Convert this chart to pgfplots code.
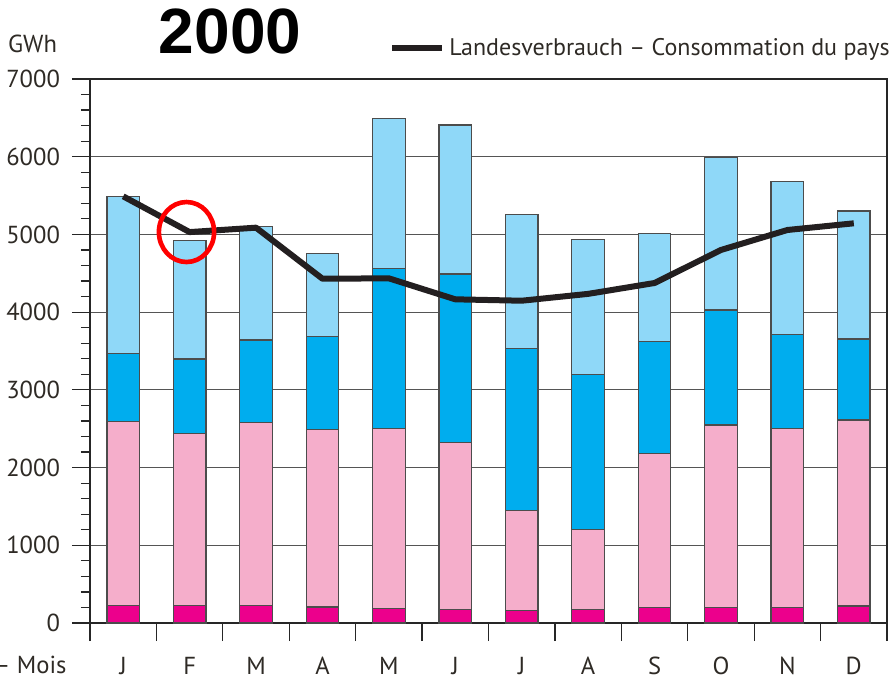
\documentclass[border=0pt]{standalone}
\usepackage{pgfplots}
\pgfplotsset{compat=1.18}
\usepackage{fontspec}
\setmainfont{PT Sans}
\newfontfamily\titlefont{Liberation Sans}
\definecolor{cmag}{HTML}{EC008C}
\definecolor{cpink}{HTML}{F5AECB}
\definecolor{cblue}{HTML}{00ADEE}
\definecolor{clight}{HTML}{8FD8F8}
\definecolor{cline}{HTML}{231F20}
\definecolor{ctext}{HTML}{2E2A25}
\definecolor{cgrid}{HTML}{555555}
\begin{document}
\begin{tikzpicture}
\useasboundingbox (-45pt,-29pt) rectangle (399.5pt,311.5pt);
\pgfplotsset{
  common/.style={
    at={(0,0)}, anchor=south west, scale only axis,
    width=398.5pt, height=272pt,
    xmin=-0.5, xmax=11.5, ymin=0, ymax=7000,
    clip=false,
  }
}
\begin{axis}[
  common,
  ybar stacked, bar width=16.3pt,
  xtick={-0.5,0.5,...,11.5},
  xticklabels={J,F,M,A,M,J,J,A,S,O,N,D,},
  x tick label style={xshift=16.6pt, yshift=-4.5pt},
  ytick={0,1000,...,7000}, minor y tick num=4,
  xtick pos=lower, ytick pos=left,
  tick align=outside, major tick length=9pt, minor tick length=4.5pt,
  ymajorgrids, grid style={cgrid, line width=0.6pt},
  axis line style={line width=0.6pt, black!85},
  tick style={line width=0.6pt, black!85},
  font=\fontsize{12.3pt}{14pt}\selectfont\color{ctext},
  /pgf/number format/assume math mode=true,
  scaled y ticks=false,
  y tick label style={/pgf/number format/1000 sep={}, xshift=-2.5pt},
  every axis plot/.append style={line width=0.6pt},
]
\addplot[fill=cmag, draw=black!70] coordinates {(0,223) (1,223) (2,223) (3,206) (4,189) (5,176) (6,158) (7,176) (8,202) (9,202) (10,202) (11,219)};
\addplot[fill=cpink, draw=black!70] coordinates {(0,2367) (1,2218) (2,2354) (3,2281) (4,2316) (5,2144) (6,1287) (7,1025) (8,1982) (9,2346) (10,2303) (11,2393)};
\addplot[fill=cblue, draw=black!70] coordinates {(0,880) (1,956) (2,1065) (3,1197) (4,2054) (5,2171) (6,2090) (7,1999) (8,1436) (9,1480) (10,1210) (11,1042)};
\addplot[fill=clight, draw=black!70] coordinates {(0,2016) (1,1523) (2,1458) (3,1073) (4,1932) (5,1917) (6,1719) (7,1737) (8,1395) (9,1960) (10,1964) (11,1648)};
\node[anchor=east, inner sep=0pt, font=\fontsize{12.3pt}{14pt}\selectfont\color{ctext}] at (rel axis cs:-0.0289,-0.0772) {– Mois};
\node[font=\fontsize{12.3pt}{14pt}\selectfont\color{ctext}] at (rel axis cs:-0.0721,1.064) {GWh};
\node[font=\titlefont\bfseries\fontsize{32pt}{36pt}\selectfont] at (rel axis cs:0.1757,1.088) {2000};
\end{axis}
\begin{axis}[
  common,
  hide axis,
  legend style={at={(rel axis cs:0.375,1.057)}, anchor=west, draw=none, fill=none,
    inner sep=0pt, font=\fontsize{12pt}{14pt}\selectfont\color{ctext}},
  legend image code/.code={\draw[#1] (0pt,0pt) -- (25pt,0pt);},
]
\addplot[cline, line width=3pt, line join=round, line cap=butt, mark=none] coordinates {(0,5490) (1,5030) (2,5087) (3,4430) (4,4435) (5,4165) (6,4147) (7,4235) (8,4375) (9,4800) (10,5057) (11,5143)};
\addlegendentry{Landesverbrauch – Consommation du pays}
\draw[red, line width=2.3pt] (axis cs:0.953,5031) ellipse [x radius=13.8pt, y radius=15pt];
\end{axis}
\end{tikzpicture}
\end{document}
